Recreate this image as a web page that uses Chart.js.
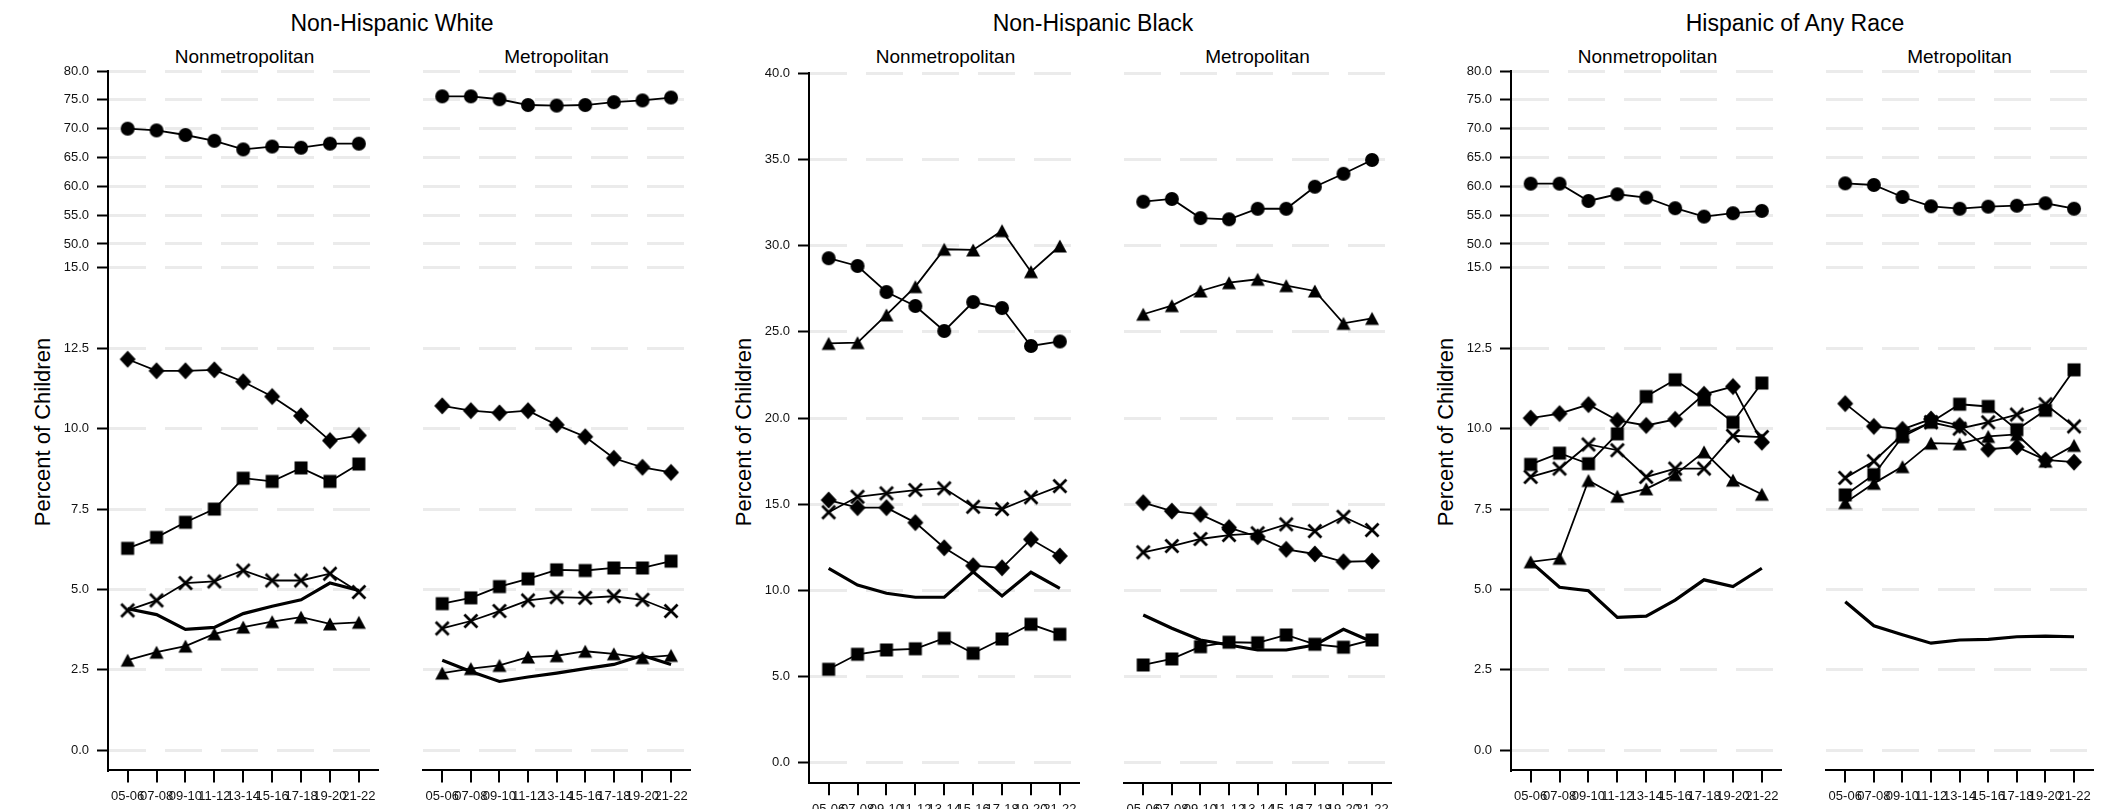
<!DOCTYPE html>
<html>
<head>
<meta charset="utf-8">
<script src="https://cdn.jsdelivr.net/npm/chart.js@4.4.1/dist/chart.umd.min.js"></script>
<style>
  body { margin: 0; width: 2120px; height: 809px; background: #fff; position: relative; overflow: hidden;
         font-family: "Liberation Sans", Arial, sans-serif; color: #000; }
  canvas { position: absolute; top: 0; }
  .title { position: absolute; top: 12px; font-size: 23px; line-height: 22px; white-space: nowrap; transform: translateX(-50%); }
  .sub { position: absolute; top: 47px; font-size: 19px; line-height: 19px; white-space: nowrap; transform: translateX(-50%); }
  .ytitle { position: absolute; top: 432px; font-size: 22px; line-height: 22px; white-space: nowrap;
            transform: translate(-50%, -50%) rotate(-90deg); }
</style>
</head>
<body>
<script>
// x categories (school years)
const periods = ['05-06', '07-08', '09-10', '11-12', '13-14', '15-16', '17-18', '19-20', '21-22'];

// y ticks: broken axis for White / Hispanic, plain for Black
const brokenTicks = [0, 2.5, 5, 7.5, 10, 12.5, 15, 50, 55, 60, 65, 70, 75, 80];
const blackTicks = [0, 5, 10, 15, 20, 25, 30, 35, 40];

// Non-Hispanic White
const whiteNonmetroCircle = [70.0, 69.7, 68.9, 67.9, 66.4, 66.9, 66.7, 67.4, 67.4];
const whiteNonmetroDiamond = [12.16, 11.8, 11.8, 11.83, 11.46, 11.0, 10.4, 9.63, 9.79];
const whiteNonmetroSquare = [6.28, 6.62, 7.09, 7.5, 8.46, 8.36, 8.78, 8.36, 8.9];
const whiteNonmetroCross = [4.35, 4.66, 5.2, 5.25, 5.59, 5.28, 5.28, 5.49, 4.92];
const whiteNonmetroTriangle = [2.8, 3.05, 3.24, 3.62, 3.83, 4.0, 4.14, 3.93, 3.98];
const whiteNonmetroLine = [4.4, 4.22, 3.76, 3.82, 4.25, 4.48, 4.68, 5.2, 4.97];

const whiteMetroCircle = [75.6, 75.6, 75.1, 74.1, 74.0, 74.1, 74.6, 74.9, 75.4];
const whiteMetroDiamond = [10.71, 10.56, 10.49, 10.56, 10.12, 9.75, 9.08, 8.8, 8.64];
const whiteMetroSquare = [4.56, 4.74, 5.09, 5.33, 5.61, 5.59, 5.67, 5.67, 5.88];
const whiteMetroCross = [3.79, 4.02, 4.33, 4.66, 4.76, 4.74, 4.79, 4.68, 4.33];
const whiteMetroTriangle = [2.4, 2.54, 2.64, 2.9, 2.94, 3.08, 3.0, 2.88, 2.95];
const whiteMetroLine = [2.8, 2.45, 2.14, 2.28, 2.4, 2.54, 2.67, 2.95, 2.67];

// Non-Hispanic Black
const blackNonmetroCircle = [29.27, 28.82, 27.31, 26.5, 25.05, 26.73, 26.38, 24.18, 24.44];
const blackNonmetroDiamond = [15.24, 14.8, 14.8, 13.93, 12.47, 11.43, 11.31, 12.96, 11.99];
const blackNonmetroSquare = [5.42, 6.29, 6.54, 6.61, 7.22, 6.35, 7.18, 8.03, 7.45];
const blackNonmetroCross = [14.53, 15.43, 15.63, 15.82, 15.92, 14.85, 14.72, 15.4, 16.05];
const blackNonmetroTriangle = [24.33, 24.37, 25.98, 27.62, 29.79, 29.75, 30.87, 28.49, 29.98];
const blackNonmetroLine = [11.28, 10.31, 9.83, 9.6, 9.6, 11.08, 9.67, 11.05, 10.12];

const blackMetroCircle = [32.55, 32.71, 31.6, 31.53, 32.14, 32.14, 33.42, 34.17, 34.97];
const blackMetroDiamond = [15.09, 14.6, 14.41, 13.64, 13.11, 12.38, 12.11, 11.66, 11.7];
const blackMetroSquare = [5.67, 6.02, 6.73, 6.99, 6.96, 7.41, 6.87, 6.7, 7.12];
const blackMetroCross = [12.21, 12.57, 12.98, 13.21, 13.31, 13.83, 13.44, 14.27, 13.5];
const blackMetroTriangle = [26.02, 26.52, 27.37, 27.85, 28.05, 27.68, 27.37, 25.49, 25.78];
const blackMetroLine = [8.57, 7.8, 7.12, 6.83, 6.54, 6.54, 6.83, 7.74, 7.02];

// Hispanic of Any Race
const hispNonmetroCircle = [60.46, 60.46, 57.46, 58.62, 58.04, 56.2, 54.75, 55.34, 55.74];
const hispNonmetroDiamond = [10.33, 10.47, 10.75, 10.26, 10.1, 10.29, 11.07, 11.31, 9.58];
const hispNonmetroSquare = [8.89, 9.24, 8.91, 9.84, 11.0, 11.52, 10.9, 10.2, 11.42];
const hispNonmetroCross = [8.5, 8.76, 9.51, 9.33, 8.5, 8.76, 8.76, 9.78, 9.74];
const hispNonmetroTriangle = [5.86, 5.97, 8.39, 7.9, 8.13, 8.57, 9.28, 8.4, 7.96];
const hispNonmetroLine = [5.86, 5.07, 4.96, 4.13, 4.17, 4.67, 5.3, 5.09, 5.66];

const hispMetroCircle = [60.52, 60.23, 58.15, 56.54, 56.12, 56.47, 56.64, 57.06, 56.12];
const hispMetroDiamond = [10.78, 10.07, 9.98, 10.3, 10.1, 9.36, 9.43, 9.03, 8.96];
const hispMetroSquare = [7.94, 8.57, 9.75, 10.2, 10.76, 10.69, 9.97, 10.57, 11.83];
const hispMetroCross = [8.47, 8.99, 9.82, 10.2, 10.0, 10.2, 10.44, 10.76, 10.07];
const hispMetroTriangle = [7.7, 8.3, 8.82, 9.55, 9.53, 9.76, 9.82, 8.99, 9.48];
const hispMetroLine = [4.62, 3.87, 3.59, 3.33, 3.43, 3.45, 3.53, 3.55, 3.53];

const FONT = '"Liberation Sans", Arial, sans-serif';

// broken axis: 0-15 full scale, 50-80 squeezed on top
function brk(v) {
    return v <= 15 ? v : 15 + 0.743 + (v - 50) * 0.1793;
}
const noBrk = v => v;

// marker images
function makeMarker(kind) {
    const c = document.createElement('canvas');
    c.width = 20; c.height = 20;
    const g = c.getContext('2d');
    g.fillStyle = '#000'; g.strokeStyle = '#000';
    g.beginPath();
    if (kind === 'circle') {
        g.arc(10, 10, 7, 0, Math.PI * 2);
        g.fill();
    } else if (kind === 'diamond') {
        g.moveTo(10, 1.5); g.lineTo(18, 10); g.lineTo(10, 18.5); g.lineTo(2, 10); g.closePath();
        g.fill();
    } else if (kind === 'square') {
        g.rect(3.5, 3.5, 13, 13);
        g.fill();
    } else if (kind === 'triangle') {
        g.moveTo(10, 3.5); g.lineTo(17, 16.5); g.lineTo(3, 16.5); g.closePath();
        g.fill();
    } else if (kind === 'cross') {
        g.lineWidth = 2.8;
        g.moveTo(3.5, 3.5); g.lineTo(16.5, 16.5);
        g.moveTo(16.5, 3.5); g.lineTo(3.5, 16.5);
        g.stroke();
    }
    return c;
}

const markers = {};
['circle', 'diamond', 'square', 'triangle', 'cross'].forEach(k => markers[k] = makeMarker(k));

function series(values, tf, kind) {
    const pts = values.map((v, i) => ({ x: i, y: tf(v) }));
    if (kind === 'line') {
        return { data: pts, borderColor: '#000', borderWidth: 3.2, pointRadius: 0, tension: 0 };
    }
    return { data: pts, borderColor: '#000', backgroundColor: '#000', borderWidth: 1.8,
             pointStyle: markers[kind], pointRadius: 7, tension: 0 };
}

function addDiv(cls, text, left) {
    const d = document.createElement('div');
    d.className = cls;
    d.textContent = text;
    d.style.left = left + 'px';
    document.body.appendChild(d);
}

function drawPanel(opts) {
    const cv = document.createElement('canvas');
    const first = opts.first;
    const left = first ? opts.G - 108 : opts.G + 306;
    const width = first ? 387 : 285;
    cv.width = width; cv.height = 809;
    cv.style.left = left + 'px';
    cv.style.width = width + 'px'; cv.style.height = '809px';
    document.body.appendChild(cv);

    const tf = opts.tf;
    const tickVals = opts.ticks.map(tf);

    new Chart(cv, {
        type: 'line',
        data: {
            datasets: [
                series(opts.line, tf, 'line'),
                series(opts.triangle, tf, 'triangle'),
                series(opts.cross, tf, 'cross'),
                series(opts.square, tf, 'square'),
                series(opts.diamond, tf, 'diamond'),
                series(opts.circle, tf, 'circle')
            ]
        },
        options: {
            responsive: false,
            animation: false,
            devicePixelRatio: 1,
            layout: { padding: { top: opts.top, bottom: 0, left: first ? 0 : 6, right: 6 } },
            plugins: { legend: { display: false }, tooltip: { enabled: false } },
            scales: {
                x: {
                    type: 'linear', min: -0.68, max: 8.67,
                    afterBuildTicks: s => { s.ticks = periods.map((p, i) => ({ value: i })); },
                    afterFit: s => { s.height = 809 - opts.bottom; },
                    ticks: { callback: v => periods[v], autoSkip: false, maxRotation: 0, minRotation: 0,
                             padding: 6, color: '#111', font: { family: FONT, size: 13 } },
                    grid: { drawOnChartArea: false, color: '#000', lineWidth: 2, tickLength: 12.5 },
                    border: { display: true, color: '#000', width: 2 }
                },
                y: {
                    type: 'linear', min: opts.ymin, max: tf(opts.ticks[opts.ticks.length - 1]),
                    afterBuildTicks: s => { s.ticks = tickVals.map(v => ({ value: v })); },
                    afterFit: s => { s.width = first ? 108 : 0; },
                    ticks: { display: first, callback: (v, i) => opts.ticks[i].toFixed(1), padding: 8,
                             color: '#111', font: { family: FONT, size: 13 } },
                    grid: { color: '#ebebeb', lineWidth: 3, drawTicks: first, tickLength: 11,
                            tickColor: '#000', tickWidth: 2, tickBorderDash: [] },
                    border: { display: first, color: '#000', width: 2, dash: [37, 19] }
                }
            }
        }
    });
}

function drawGroup(title, G, tf, ticks, top, bottom, ymin, nonmetro, metro) {
    addDiv('title', title, G + 284);
    addDiv('sub', 'Nonmetropolitan', G + 136.5);
    addDiv('sub', 'Metropolitan', G + 448.5);
    addDiv('ytitle', 'Percent of Children', G - 65);
    drawPanel(Object.assign({ G, tf, ticks, top, bottom, ymin, first: true }, nonmetro));
    drawPanel(Object.assign({ G, tf, ticks, top, bottom, ymin, first: false }, metro));
}

drawGroup('Non-Hispanic White', 108, brk, brokenTicks, 71, 770, -0.613,
    { circle: whiteNonmetroCircle, diamond: whiteNonmetroDiamond, square: whiteNonmetroSquare,
      cross: whiteNonmetroCross, triangle: whiteNonmetroTriangle, line: whiteNonmetroLine },
    { circle: whiteMetroCircle, diamond: whiteMetroDiamond, square: whiteMetroSquare,
      cross: whiteMetroCross, triangle: whiteMetroTriangle, line: whiteMetroLine });

drawGroup('Non-Hispanic Black', 809, noBrk, blackTicks, 73.3, 782.7, -1.16,
    { circle: blackNonmetroCircle, diamond: blackNonmetroDiamond, square: blackNonmetroSquare,
      cross: blackNonmetroCross, triangle: blackNonmetroTriangle, line: blackNonmetroLine },
    { circle: blackMetroCircle, diamond: blackMetroDiamond, square: blackMetroSquare,
      cross: blackMetroCross, triangle: blackMetroTriangle, line: blackMetroLine });

drawGroup('Hispanic of Any Race', 1511, brk, brokenTicks, 71, 770, -0.613,
    { circle: hispNonmetroCircle, diamond: hispNonmetroDiamond, square: hispNonmetroSquare,
      cross: hispNonmetroCross, triangle: hispNonmetroTriangle, line: hispNonmetroLine },
    { circle: hispMetroCircle, diamond: hispMetroDiamond, square: hispMetroSquare,
      cross: hispMetroCross, triangle: hispMetroTriangle, line: hispMetroLine });
</script>
</body>
</html>
